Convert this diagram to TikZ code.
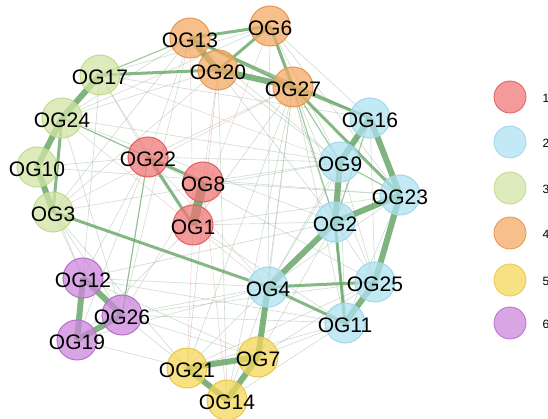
\documentclass[tikz,border=0pt]{standalone}
\usepackage{fontspec}
\setmainfont{Liberation Sans}
\definecolor{eg}{RGB}{104,166,104}
\definecolor{fa}{RGB}{150,175,150}
\definecolor{pk}{RGB}{225,170,170}
\definecolor{cA}{RGB}{240,120,120}
\definecolor{bA}{RGB}{225,95,95}
\definecolor{cB}{RGB}{175,225,240}
\definecolor{bB}{RGB}{160,215,235}
\definecolor{cC}{RGB}{210,228,165}
\definecolor{bC}{RGB}{195,218,140}
\definecolor{cD}{RGB}{243,170,100}
\definecolor{bD}{RGB}{230,150,80}
\definecolor{cE}{RGB}{245,215,90}
\definecolor{bE}{RGB}{232,200,70}
\definecolor{cF}{RGB}{205,135,220}
\definecolor{bF}{RGB}{185,110,205}
\tikzset{
  og/.style={circle, minimum size=40pt, inner sep=0pt, line width=1pt, fill opacity=0.75},
  lab/.style={inner sep=0pt, font=\fontsize{21}{21}\selectfont},
  gA/.style={og, fill=cA, draw=bA},
  gB/.style={og, fill=cB, draw=bB},
  gC/.style={og, fill=cC, draw=bC},
  gD/.style={og, fill=cD, draw=bD},
  gE/.style={og, fill=cE, draw=bE},
  gF/.style={og, fill=cF, draw=bF},
  ethick/.style={draw=eg, line width=6pt, opacity=0.85},
  emed/.style={draw=eg, line width=3pt, opacity=0.8},
  ethin/.style={draw=eg, line width=1.2pt, opacity=0.6},
  efaint/.style={draw=fa, line width=0.6pt, opacity=0.45},
  epink/.style={draw=pk, line width=0.6pt, opacity=0.5},
  leg/.style={circle, minimum size=32pt, inner sep=0pt, line width=0.8pt, fill opacity=0.75},
  legt/.style={anchor=west, font=\fontsize{12}{12}\selectfont}
}
\begin{document}
\begin{tikzpicture}[x=1pt,y=-1pt]
\useasboundingbox (0,0) rectangle (548,419);
% node positions
\coordinate (p13) at (190,38);
\coordinate (p6) at (270,26);
\coordinate (p20) at (218,70);
\coordinate (p27) at (293,87);
\coordinate (p17) at (100,75);
\coordinate (p24) at (62,118);
\coordinate (p10) at (37,167);
\coordinate (p3) at (53,212);
\coordinate (p22) at (148,157);
\coordinate (p8) at (203,182);
\coordinate (p1) at (193,225);
\coordinate (p16) at (370,118);
\coordinate (p9) at (340,162);
\coordinate (p23) at (400,195);
\coordinate (p2) at (335,222);
\coordinate (p25) at (375,282);
\coordinate (p4) at (268,287);
\coordinate (p11) at (345,323);
\coordinate (p7) at (258,357);
\coordinate (p21) at (187,368);
\coordinate (p14) at (227,400);
\coordinate (p12) at (83,278);
\coordinate (p26) at (122,315);
\coordinate (p19) at (77,340);
% faint edges
\foreach \a/\b in {p27/p4, p27/p11, p27/p7, p27/p14, p27/p25, p27/p1, p27/p22, p27/p21,
  p6/p4, p6/p9, p6/p2, p6/p23, p6/p16, p6/p24, p6/p17, p20/p14, p20/p21, p20/p9, p20/p2, p20/p24, p20/p3,
  p13/p24, p13/p22, p13/p3, p13/p26, p13/p9, p13/p16,
  p17/p22, p17/p12, p17/p1, p17/p16, p24/p8, p24/p26, p24/p9, p24/p2, p10/p22, p10/p23, p10/p12,
  p3/p12, p3/p26, p3/p21, p3/p9, p22/p26, p22/p12, p22/p9, p22/p25, p22/p19,
  p12/p4, p12/p11, p12/p7, p12/p2, p26/p4, p26/p11, p26/p25, p26/p7, p26/p14, p19/p4, p19/p21, p19/p1,
  p21/p4, p21/p11, p21/p25, p14/p11, p14/p4, p7/p11, p7/p25, p7/p2,
  p9/p4, p9/p11, p9/p25, p23/p4, p23/p11, p16/p4, p16/p25, p2/p25, p1/p23, p1/p2, p1/p11, p8/p9, p8/p23}
  \draw[efaint] (\a) -- (\b);
\foreach \a/\b in {p20/p8, p6/p1, p27/p3, p13/p1, p8/p14, p1/p21, p22/p4, p8/p26, p24/p4, p17/p9}
  \draw[epink] (\a) -- (\b);
% thin green edges
\foreach \a/\b in {p13/p17, p27/p9, p9/p23, p27/p2, p13/p16, p16/p2, p26/p22, p2/p11, p24/p22}
  \draw[ethin] (\a) -- (\b);
% medium edges
\foreach \a/\b in {p13/p6, p6/p20, p6/p27, p13/p27, p17/p20, p24/p3, p22/p8, p22/p1,
  p27/p16, p27/p23, p25/p4, p4/p11, p3/p4, p2/p11}
  \draw[emed] (\a) -- (\b);
% thick edges
\foreach \a/\b in {p13/p20, p20/p27, p17/p24, p24/p10, p10/p3, p16/p9, p16/p23, p9/p2, p2/p23,
  p23/p25, p2/p4, p25/p11, p4/p7, p7/p21, p7/p14, p21/p14, p12/p26, p12/p19, p19/p26}
  \draw[ethick] (\a) -- (\b);
\draw[draw=eg, line width=9pt, opacity=0.9] (p8) -- (p1);
% node circles
\node[gD] (OG13) at (p13) {};
\node[gD] (OG6) at (p6) {};
\node[gD] (OG20) at (p20) {};
\node[gD] (OG27) at (p27) {};
\node[gC] (OG17) at (p17) {};
\node[gC] (OG24) at (p24) {};
\node[gC] (OG10) at (p10) {};
\node[gC] (OG3) at (p3) {};
\node[gA] (OG22) at (p22) {};
\node[gA] (OG1) at (p1) {};
\node[gA] (OG8) at (p8) {};
\node[gB] (OG16) at (p16) {};
\node[gB] (OG9) at (p9) {};
\node[gB] (OG23) at (p23) {};
\node[gB] (OG2) at (p2) {};
\node[gB] (OG25) at (p25) {};
\node[gB] (OG4) at (p4) {};
\node[gB] (OG11) at (p11) {};
\node[gE] (OG7) at (p7) {};
\node[gE] (OG21) at (p21) {};
\node[gE] (OG14) at (p14) {};
\node[gF] (OG12) at (p12) {};
\node[gF] (OG26) at (p26) {};
\node[gF] (OG19) at (p19) {};
% labels
\foreach \n in {13,6,20,27,17,24,10,3,22,1,8,16,9,23,2,25,4,11,7,21,14,12,26,19}
  \node[lab] (t\n) at ([yshift=-2pt]OG\n) {OG\n};
% legend
\node[leg, fill=cA, draw=bA] (L1) at (510,97) {};
\node[leg, fill=cB, draw=bB] (L2) at (510,142) {};
\node[leg, fill=cC, draw=bC] (L3) at (510,188) {};
\node[leg, fill=cD, draw=bD] (L4) at (510,233) {};
\node[leg, fill=cE, draw=bE] (L5) at (510,280) {};
\node[leg, fill=cF, draw=bF] (L6) at (510,323) {};
\node[legt] (T1) at (539,98) {1};
\node[legt] (T2) at (539,143) {2};
\node[legt] (T3) at (539,189) {3};
\node[legt] (T4) at (539,234) {4};
\node[legt] (T5) at (539,281) {5};
\node[legt] (T6) at (539,324) {6};
\end{tikzpicture}
\end{document}
